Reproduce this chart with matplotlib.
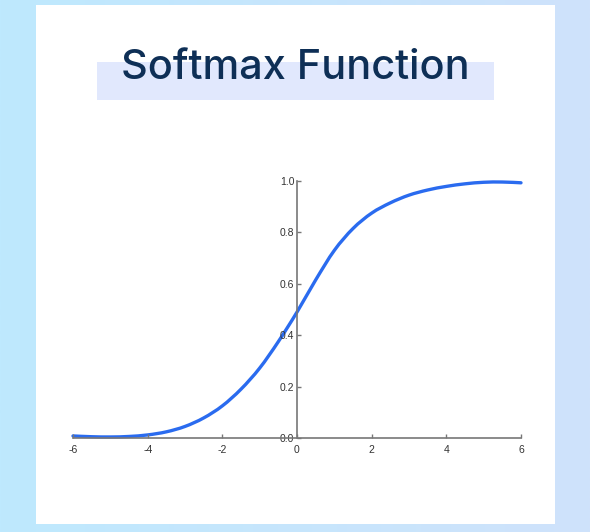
import numpy as np
import matplotlib.pyplot as plt
from matplotlib.patches import Rectangle, PathPatch
from matplotlib.path import Path

# valeurs (pas de 0.5)
x_vals = [-6, -5.5, -5, -4.5, -4, -3.5, -3, -2.5, -2, -1.5, -1, -0.5,
          0, 0.5, 1, 1.5, 2, 2.5, 3, 3.5, 4, 4.5, 5, 5.5, 6]
y_vals = [0.008, 0.005, 0.004, 0.006, 0.012, 0.024, 0.045, 0.078, 0.125, 0.19,
          0.272, 0.375, 0.49, 0.615, 0.73, 0.815, 0.875, 0.915, 0.945, 0.965,
          0.979, 0.989, 0.995, 0.996, 0.993]
x_ticks = [-6, -4, -2, 0, 2, 4, 6]
y_ticks = [0.0, 0.2, 0.4, 0.6, 0.8, 1.0]
title = "Softmax Function"


def smooth_path(xs, ys):
    # courbe de Bézier passant par les points (Catmull-Rom)
    p = np.column_stack([xs, ys])
    verts = [p[0]]
    codes = [Path.MOVETO]
    for i in range(len(p) - 1):
        p0 = p[i - 1] if i > 0 else p[i]
        p3 = p[i + 2] if i + 2 < len(p) else p[i + 1]
        c1 = p[i] + (p[i + 1] - p0) / 6
        c2 = p[i + 1] - (p3 - p[i]) / 6
        verts += [c1, c2, p[i + 1]]
        codes += [Path.CURVE4] * 3
    return Path(verts, codes)


W, H = 590, 532
fig = plt.figure(figsize=(W / 100, H / 100), dpi=100)

# fond dégradé
bg = fig.add_axes([0, 0, 1, 1], zorder=0)
c1 = np.array([190, 233, 254]) / 255
c2 = np.array([207, 226, 251]) / 255
t = np.linspace(0, 1, 256)
grad = (c1[None, :] * (1 - t[:, None]) + c2[None, :] * t[:, None])[None, :, :]
bg.imshow(grad, extent=[0, 1, 0, 1], aspect='auto')
bg.set_xlim(0, 1)
bg.set_ylim(0, 1)
bg.axis('off')

# carte blanche + surlignage du titre
bg.add_patch(Rectangle((36 / W, 1 - 524 / H), (555 - 36) / W, (524 - 5) / H,
                       facecolor='white', edgecolor='none'))
bg.add_patch(Rectangle((97 / W, 1 - 100 / H), (494 - 97) / W, (100 - 62) / H,
                       facecolor='#E1E8FD', edgecolor='none'))

fig.text(295 / W, 1 - 79 / H, title, ha='center', va='baseline',
         fontsize=29.8, color='#0E2F56', family='Inter', fontweight='medium')

# graphique
ax = fig.add_axes([73 / W, 1 - 438 / H, 448 / W, 257 / H], zorder=2)
ax.patch.set_alpha(0)
ax.add_patch(PathPatch(smooth_path(x_vals, y_vals), fill=False,
                       edgecolor='#2A6BEF', linewidth=2.4, clip_on=False,
                       capstyle='round'))
ax.set_xlim(-6, 6)
ax.set_ylim(0, 1)
ax.spines['left'].set_position(('data', 0))
ax.spines['top'].set_visible(False)
ax.spines['right'].set_visible(False)
for s in ('left', 'bottom'):
    ax.spines[s].set_color('#777777')
    ax.spines[s].set_linewidth(1.2)
ax.set_xticks(x_ticks)
ax.set_xticklabels([str(v) for v in x_ticks])
ax.set_yticks(y_ticks)
ax.set_yticklabels([f"{v:.1f}" for v in y_ticks])
ax.tick_params(direction='in', length=3, width=1, color='#777777',
               labelsize=7.5, labelcolor='#333333')
ax.tick_params(axis='x', pad=5)
ax.tick_params(axis='y', pad=2)
for lab in ax.get_xticklabels() + ax.get_yticklabels():
    lab.set_family('Liberation Sans')

fig.savefig('out.png', dpi=100)
